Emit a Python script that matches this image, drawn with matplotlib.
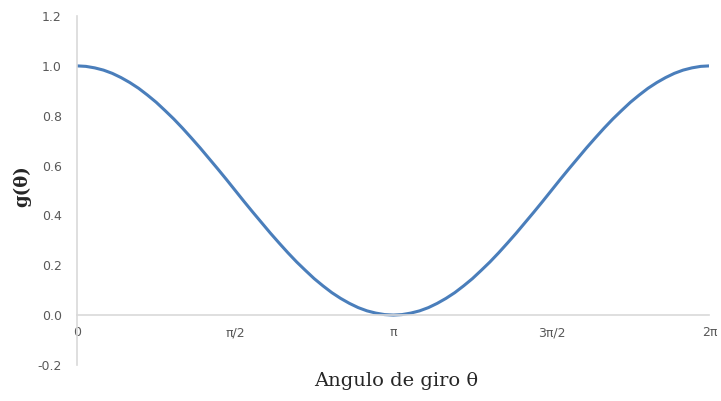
import numpy as np
import matplotlib
matplotlib.use("Agg")
import matplotlib.pyplot as plt

# angle of rotation (degrees) and g(theta) values
angle_deg = list(range(0, 365, 5))
g_first_half = [1.000, 0.998, 0.992, 0.983, 0.970, 0.953, 0.933, 0.910, 0.883, 0.854, 0.821, 0.787,
                0.750, 0.711, 0.671, 0.629, 0.587, 0.544, 0.500, 0.456, 0.413, 0.371, 0.329, 0.289,
                0.250, 0.213, 0.179, 0.146, 0.117, 0.090, 0.067, 0.047, 0.030, 0.017, 0.008, 0.002]
g_min = [0.000]
g_second_half = [0.002, 0.008, 0.017, 0.030, 0.047, 0.067, 0.090, 0.117, 0.146, 0.179, 0.213, 0.250,
                 0.289, 0.329, 0.371, 0.413, 0.456, 0.500, 0.544, 0.587, 0.629, 0.671, 0.711, 0.750,
                 0.787, 0.821, 0.854, 0.883, 0.910, 0.933, 0.953, 0.970, 0.983, 0.992, 0.998, 1.000]
g_values = g_first_half + g_min + g_second_half

x_ticks = [0, np.pi / 2, np.pi, 3 * np.pi / 2, 2 * np.pi]
x_tick_labels = ["0", "π/2", "π", "3π/2", "2π"]
y_ticks = [-0.2, 0.0, 0.2, 0.4, 0.6, 0.8, 1.0, 1.2]

fig = plt.figure(figsize=(7.21, 4.01), dpi=100)
ax = fig.add_axes([0.107, 0.09, 0.877, 0.870])

theta = np.deg2rad(angle_deg)
ax.plot(theta, g_values, color="#4a7ebb", linewidth=2.2, solid_capstyle="round")

ax.set_xlim(0, 2 * np.pi)
ax.set_ylim(-0.2, 1.2)

# axis lines: light grey, x axis sits at y = 0
for side in ["top", "right"]:
    ax.spines[side].set_visible(False)
ax.spines["left"].set_color("#d9d9d9")
ax.spines["bottom"].set_color("#d9d9d9")
ax.spines["left"].set_linewidth(1.2)
ax.spines["bottom"].set_linewidth(1.2)
ax.spines["bottom"].set_position(("data", 0))

ax.set_xticks(x_ticks)
ax.set_xticklabels(x_tick_labels)
ax.set_yticks(y_ticks)
ax.set_yticklabels(["%.1f" % v for v in y_ticks])
ax.tick_params(axis="both", length=0, labelsize=9, labelcolor="#595959")
ax.tick_params(axis="x", pad=8)
ax.tick_params(axis="y", pad=11)

fig.text(0.55, 0.05, "Angulo de giro θ", ha="center", va="center",
         fontsize=14, family="DejaVu Serif", color="#262626")
fig.text(0.03, 0.535, "g(θ)", ha="center", va="center", rotation=90,
         fontsize=13, fontweight="bold", family="DejaVu Serif", color="#262626")

fig.savefig("out.png", dpi=100)
